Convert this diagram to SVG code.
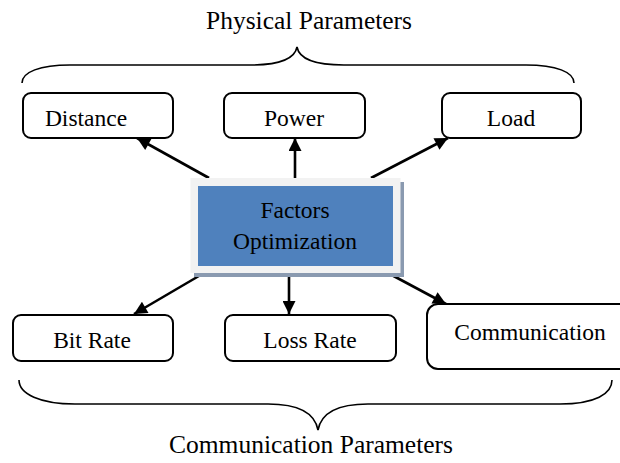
<svg xmlns="http://www.w3.org/2000/svg" width="620" height="463" viewBox="0 0 620 463">
<defs>
<style>
.box{fill:#fff;stroke:#000;stroke-width:2}
.lbl{font-family:"Liberation Serif","Times New Roman",serif;font-size:23.5px;fill:#000;text-anchor:middle}
.hdr{font-family:"Liberation Serif","Times New Roman",serif;font-size:25.5px;fill:#000;text-anchor:middle}
.brace{fill:none;stroke:#000;stroke-width:1.6}
.conn{stroke:#000;stroke-width:2.6;fill:none;marker-end:url(#ah)}
</style>
<marker id="ah" viewBox="0 0 10 10" refX="10" refY="5" markerUnits="userSpaceOnUse" markerWidth="15" markerHeight="13" orient="auto">
<path d="M0,0 L10,5 L0,10 z" fill="#000"/>
</marker>
</defs>
<rect width="620" height="463" fill="#fff"/>
<g id="physical-parameters">
<text class="hdr" x="309" y="29">Physical Parameters</text>
<path class="brace" d="M22,83 C22,72 40,65 70,65 L250,65 C280,65 295,58 297,47 C299,58 314,65 344,65 L526,65 C556,65 574,72 574,83"/>
</g>
<g id="communication-parameters">
<path class="brace" d="M19,380 C19,394 40,404 75,404 L268,404 C300,404 315,414 318,430 C321,414 336,404 368,404 L560,404 C595,404 612,394 612,380"/>
<text class="hdr" x="311" y="453">Communication Parameters</text>
</g>
<g id="connectors">
<line class="conn" x1="209" y1="178" x2="137" y2="138"/>
<line class="conn" x1="295" y1="178" x2="295" y2="138"/>
<line class="conn" x1="371" y1="178" x2="448" y2="138"/>
<line class="conn" x1="204" y1="273" x2="134" y2="314"/>
<line class="conn" x1="289" y1="273" x2="289" y2="314"/>
<line class="conn" x1="388" y1="273" x2="446" y2="304"/>
</g>
<g id="distance">
<rect class="box" x="23" y="93" width="150" height="45" rx="8"/>
<text class="lbl" x="86" y="126">Distance</text>
</g>
<g id="power">
<rect class="box" x="224" y="93" width="141" height="45" rx="8"/>
<text class="lbl" x="294" y="126">Power</text>
</g>
<g id="load">
<rect class="box" x="442" y="93" width="139" height="45" rx="8"/>
<text class="lbl" x="511" y="126">Load</text>
</g>
<g id="factors-optimization">
<rect x="194" y="182" width="210" height="95" fill="#8a9ab0"/>
<rect x="190.5" y="178" width="210" height="95" fill="#f2f2f2"/>
<rect x="198" y="186" width="195" height="80" fill="#4f81bd"/>
<text class="lbl" x="295" y="218">Factors</text>
<text class="lbl" x="295" y="249">Optimization</text>
</g>
<g id="bit-rate">
<rect class="box" x="13" y="315" width="160" height="46" rx="8"/>
<text class="lbl" x="92" y="348">Bit Rate</text>
</g>
<g id="loss-rate">
<rect class="box" x="225" y="315" width="171" height="46" rx="8"/>
<text class="lbl" x="310" y="348">Loss Rate</text>
</g>
<g id="communication">
<rect class="box" x="427" y="304" width="210" height="65" rx="11"/>
<text class="lbl" x="530" y="340">Communication</text>
</g>
</svg>
